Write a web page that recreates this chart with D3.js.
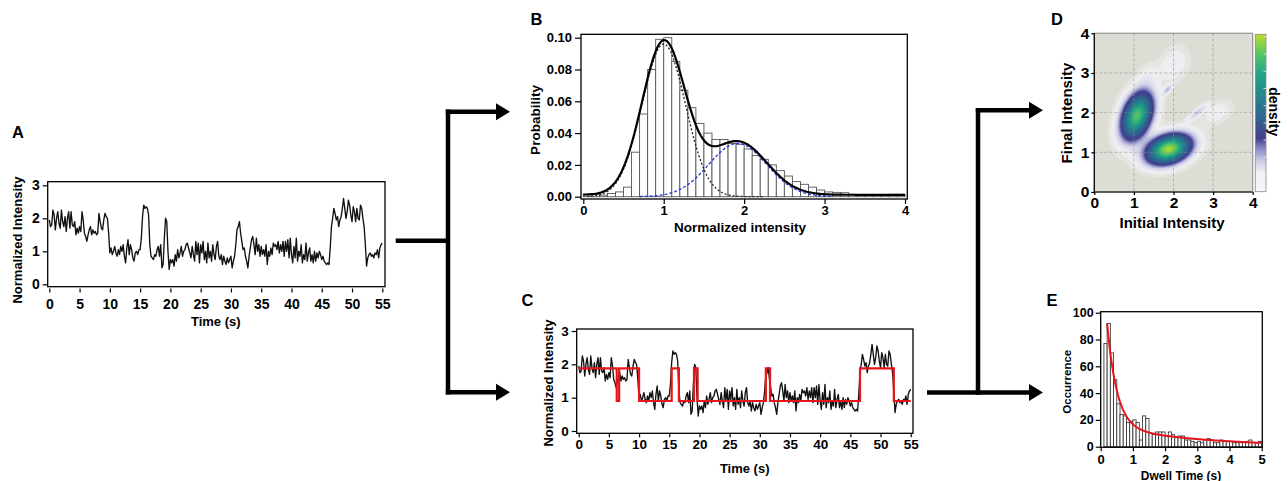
<!DOCTYPE html>
<html>
<head>
<meta charset="utf-8">
<script src="https://cdn.jsdelivr.net/npm/d3@7"></script>
<style>
  body { margin: 0; background: #fff; }
  svg { display: block; }
</style>
</head>
<body>
<svg id="fig" width="1288" height="481"></svg>
<script>
// ---- data ----
// intensity trace, one sample every 0.2 s (panels A and C)
const sampleStep = 0.2;
const intensity = [
  1.95, 1.75, 1.8, 2.25, 2.1,   1.65, 2.0, 2.2, 1.85, 1.7,
  2.25, 1.9, 1.75, 2.05, 1.6,   2.0, 2.2, 1.7, 2.2, 1.8,
  1.75, 1.9, 1.5, 1.7, 1.55,    1.75, 1.6, 2.2, 1.95, 1.55,
  1.45, 1.3, 1.5, 1.65, 1.75,   1.5, 1.65, 1.55, 1.6, 1.5,
  1.55, 2.15, 1.9, 1.7, 1.65,   1.95, 2.15, 2.05, 2.0, 1.55,
  0.95, 1.1, 0.9, 1.0, 1.15,    0.95, 0.85, 1.05, 0.9, 1.15,
  1.0, 1.2, 0.85, 0.65, 1.1,    1.35, 0.9, 1.2, 1.05, 0.8,
  0.7, 0.95, 1.0, 0.9, 1.05,    1.05, 1.4, 2.05, 2.4, 2.3,
  2.35, 2.3, 2.1, 1.2, 0.85,    0.8, 0.75, 0.9, 0.85, 1.05,
  1.15, 0.85, 1.2, 0.5, 0.6,    1.4, 2.0, 1.9, 1.0, 0.45,
  0.75, 0.65, 0.75, 0.55, 0.9,  0.7, 1.05, 0.8, 0.95, 1.15,
  0.85, 1.0, 1.05, 1.2, 1.25,   1.1, 0.95, 0.8, 1.15, 0.9,
  0.7, 1.3, 0.9, 1.25, 0.65,    1.2, 0.95, 1.3, 0.75, 1.0,
  0.65, 1.25, 0.8, 1.0, 0.7,    1.2, 0.9, 0.75, 1.15, 1.3,
  0.85, 0.75, 0.9, 0.6, 0.85,   0.7, 0.6, 0.8, 0.65, 0.75,
  0.85, 0.5, 0.7, 0.85, 1.2,    1.65, 1.75, 1.9, 1.55, 1.3,
  1.05, 1.1, 0.85, 0.7, 0.5,    0.85, 1.1, 1.35, 1.45, 1.2,
  0.9, 1.4, 1.0, 1.2, 0.85,     1.15, 0.9, 1.05, 0.85, 1.2,
  0.6, 1.0, 0.85, 1.1, 0.9,     1.25, 1.15, 1.2, 1.05, 1.3,
  0.95, 1.2, 1.0, 1.3, 0.85,    1.3, 1.0, 1.35, 0.8, 1.4,
  0.9, 0.65, 1.15, 0.8, 1.4,    0.7, 1.0, 0.85, 1.2, 0.65,
  0.9, 0.75, 1.25, 0.7, 0.95,   1.1, 0.7, 0.9, 0.65, 1.0,
  0.7, 0.95, 0.8, 1.0, 0.9,     0.75, 0.85, 0.7, 0.65, 0.6,
  0.65, 0.6, 1.1, 1.75, 2.0,    2.3, 2.15, 1.95, 2.05, 1.75,
  1.95, 2.05, 2.3, 2.6, 2.3,    2.0, 2.2, 2.55, 2.4, 2.1,
  1.9, 2.35, 2.2, 1.9, 2.3,     2.0, 1.95, 2.4, 2.3, 2.0,
  1.75, 1.2, 0.55, 0.8, 0.9,    0.95, 0.85, 0.9, 0.8, 0.95,
  0.9, 1.05, 0.8, 1.1, 1.2,     1.25
];
const timeTicks = [0, 5, 10, 15, 20, 25, 30, 35, 40, 45, 50, 55];
const intensityTicks = [0, 1, 2, 3];

// idealized two-state fit (panel C)
const stepStart = [0, 6.3, 6.7, 10.0, 15.4, 16.6, 19.1, 19.7, 31.0, 31.7, 46.6, 52.2, 55];
const stepLevel = [1.88, 0.9, 1.88, 0.9, 1.88, 0.9, 1.88, 0.9, 1.88, 0.9, 1.88, 0.9, 0.9];

// intensity histogram (panel B), bins of 0.1 from 0 to 4
const histBinWidth = 0.1;
const histProb = [
  0.0015, 0.0015, 0.001, 0.002, 0.003, 0.006, 0.028, 0.052, 0.080, 0.099,
  0.100, 0.085, 0.067, 0.056, 0.046, 0.040, 0.036, 0.036, 0.0335, 0.033,
  0.030, 0.026, 0.0235, 0.020, 0.0164, 0.013, 0.0095, 0.0078, 0.006, 0.0042,
  0.003, 0.0027, 0.0025, 0.0015, 0.001, 0.001, 0.001, 0.001, 0.0015, 0.0015
];
const probTicks = [0, 0.02, 0.04, 0.06, 0.08, 0.10];
const normTicks = [0, 1, 2, 3, 4];
// gaussian fit components
const fitCenter = [1.0, 1.92];
const fitAmp = [0.096, 0.0335];
const fitSigma = [0.27, 0.36];
const fitBase = 0.0012;

// TDP density blobs (panel D)
const blobX = [1.08, 1.88, 1.85, 2.6, 2.0, 1.35, 3.1];
const blobY = [1.92, 1.08, 2.58, 2.0, 3.2, 2.9, 2.0];
const blobMajor = [0.36, 0.33, 0.11, 0.2, 0.28, 0.2, 0.25];
const blobMinor = [0.205, 0.2, 0.045, 0.05, 0.2, 0.15, 0.15];
const blobAngle = [70, 18, 48, 40, 60, 60, 30];
const blobPeak = [0.82, 0.97, 0.09, 0.08, 0.03, 0.025, 0.025];
const densityTicks = [0, 1, 2, 3, 4];
const colorbarTicks = [1, 2, 3, 4, 5, 6, 7, 8, 9];

// dwell time histogram (panel E), bins of 0.1 s from 0.1 s
const dwellStart = 0.1;
const dwellWidth = 0.1;
const dwellCounts = [
  77, 92, 70, 50, 32, 24, 23, 18, 19, 20,
  18, 5, 23, 21, 10, 9, 11, 11, 11, 8,
  11, 9, 7, 8, 8, 5, 5, 4, 3, 4,
  3, 5, 6, 5, 3, 3, 5, 4, 4, 4,
  3, 3, 3, 3, 4, 5, 3, 3, 4
];
const decayAmp = [149.5, 16];
const decayTau = [0.302, 2.9];
const dwellTicks = [0, 1, 2, 3, 4, 5];
const countTicks = [0, 20, 40, 60, 80, 100];

// ---- drawing ----
const FONT = '"Liberation Sans", Arial, Helvetica, sans-serif';
const svg = d3.select('#fig');
const intFmt = d3.format('d');

function axisStyle(g, fs) {
  g.attr('font-family', FONT).attr('font-size', fs).attr('font-weight', 'bold');
  g.select('.domain').remove();
  g.selectAll('.tick line').attr('stroke', '#000').attr('stroke-width', 1.2);
  g.selectAll('.tick text').attr('fill', '#000');
}

function label(txt, x, y, fs, rot) {
  const t = svg.append('text')
    .attr('font-family', FONT).attr('font-weight', 'bold').attr('font-size', fs)
    .attr('text-anchor', 'middle').attr('fill', '#000').text(txt);
  if (rot) t.attr('transform', `translate(${x},${y}) rotate(${rot})`).attr('dy', '0.35em');
  else t.attr('x', x).attr('y', y);
  return t;
}

function frame(g, l, t, r, b, color) {
  g.append('rect').attr('x', l).attr('y', t).attr('width', r - l).attr('height', b - t)
    .attr('fill', 'none').attr('stroke', color || '#000').attr('stroke-width', 1.3);
}

// Panels A and C
function drawTrace(p) {
  const g = svg.append('g');
  const x = d3.scaleLinear().domain([0, 55]).range([p.x0, p.x55]);
  const y = d3.scaleLinear().domain([0, 3]).range([p.y0, p.y3]);

  g.append('path').datum(intensity)
    .attr('d', d3.line().x((d, i) => x(i * sampleStep)).y(d => y(d)))
    .attr('fill', 'none').attr('stroke', '#111').attr('stroke-width', 1.35)
    .attr('stroke-linejoin', 'round');

  if (p.fit) {
    const steps = stepStart.map((t, i) => ({ t, v: stepLevel[i] }));
    g.append('path').datum(steps)
      .attr('d', d3.line().curve(d3.curveStepAfter).x(d => x(d.t)).y(d => y(d.v)))
      .attr('fill', 'none').attr('stroke', '#e8141c').attr('stroke-width', 2.2);
  }

  frame(g, p.fl, p.ft, p.fr, p.fb);

  g.append('g').attr('transform', `translate(0,${p.xAxisY})`)
    .call(d3.axisBottom(x).tickValues(timeTicks).tickFormat(intFmt).tickSize(4).tickPadding(p.xPad).tickSizeOuter(0))
    .call(axisStyle, p.tickFs);
  g.append('g').attr('transform', `translate(${p.fl},0)`)
    .call(d3.axisLeft(y).tickValues(intensityTicks).tickFormat(intFmt).tickSize(5).tickPadding(3).tickSizeOuter(0))
    .call(axisStyle, p.tickFs);

  label('Time (s)', (p.x0 + p.x55) / 2, p.timeY, 13);
  label('Normalized Intensity', p.ylabX, p.ylabY, p.ylabFs, -90);
}

drawTrace({
  x0: 49.3, x55: 382.3, y0: 284.3, y3: 185.3,
  fl: 47.7, fr: 385, ft: 181.7, fb: 286.7,
  xAxisY: 288.5, xPad: 7, tickFs: 14,
  timeY: 326, ylabX: 17.5, ylabY: 240, ylabFs: 13
});
drawTrace({
  x0: 578.7, x55: 910.7, y0: 431, y3: 331,
  fl: 576.7, fr: 913, ft: 329, fb: 433.3,
  xAxisY: 433.3, xPad: 2, tickFs: 13.5, fit: true,
  timeY: 473, ylabX: 548, ylabY: 383, ylabFs: 13
});

// Panel B
(function () {
  const g = svg.append('g');
  const x = d3.scaleLinear().domain([0, 4]).range([583.3, 905]);
  const y = d3.scaleLinear().domain([0, 0.1]).range([196.7, 37.7]);

  g.selectAll('rect.bar').data(histProb).enter().append('rect')
    .attr('class', 'bar')
    .attr('x', (d, i) => x(i * histBinWidth))
    .attr('width', x(histBinWidth) - x(0))
    .attr('y', d => y(d))
    .attr('height', d => y(0) - y(d))
    .attr('fill', '#fff').attr('stroke', '#555').attr('stroke-width', 0.9);

  const gauss = (k, v) => fitAmp[k] * Math.exp(-((v - fitCenter[k]) ** 2) / (2 * fitSigma[k] ** 2));
  const line = d3.line().x(d => x(d[0])).y(d => y(d[1]));

  const xs1 = d3.range(0.05, 2.25, 0.02);
  g.append('path').datum(xs1.map(v => [v, gauss(0, v)]))
    .attr('d', line).attr('fill', 'none').attr('stroke', '#222')
    .attr('stroke-width', 1.3).attr('stroke-dasharray', '2,2');

  const xs2 = d3.range(0.7, 3.12, 0.02);
  g.append('path').datum(xs2.map(v => [v, gauss(1, v)]))
    .attr('d', line).attr('fill', 'none').attr('stroke', '#2233dd')
    .attr('stroke-width', 1.3).attr('stroke-dasharray', '3,2');

  const xs = d3.range(0, 4.001, 0.02);
  g.append('path').datum(xs.map(v => [v, fitBase + gauss(0, v) + gauss(1, v)]))
    .attr('d', line).attr('fill', 'none').attr('stroke', '#000').attr('stroke-width', 2.2);

  frame(g, 581, 34.3, 907.3, 199);

  g.append('g').attr('transform', 'translate(0,199)')
    .call(d3.axisBottom(x).tickValues(normTicks).tickFormat(intFmt).tickSize(5).tickPadding(2).tickSizeOuter(0))
    .call(axisStyle, 13);
  g.append('g').attr('transform', 'translate(581,0)')
    .call(d3.axisLeft(y).tickValues(probTicks).tickFormat(d3.format('.2f')).tickSize(6).tickPadding(3).tickSizeOuter(0))
    .call(axisStyle, 13);

  label('Normalized intensity', 740, 232, 13.5);
  label('Probability', 535, 120, 13.5, -90);
})();

// Panel D
(function () {
  const g = svg.append('g');
  const L = 1094.3, R = 1252.7, T = 33.3, B = 192;
  const x = d3.scaleLinear().domain([0, 4]).range([L, R]);
  const y = d3.scaleLinear().domain([0, 4]).range([B, T]);

  // colour map for the density values
  const stops = [
    [0, '#dddcd5'], [0.02, '#f1f1f4'], [0.07, '#d3d2e9'], [0.12, '#8e8fc7'],
    [0.17, '#433f8d'], [0.32, '#33618f'], [0.5, '#27838e'], [0.66, '#20a386'],
    [0.82, '#52c569'], [1, '#b8de29']
  ];
  const color = d3.scaleLinear().domain(stops.map(s => s[0])).range(stops.map(s => s[1]))
    .interpolate(d3.interpolateRgb).clamp(true);

  const n = 160;
  const values = new Float64Array(n * n);
  for (let j = 0; j < n; j++) {
    for (let i = 0; i < n; i++) {
      const xv = (i + 0.5) * 4 / n, yv = (j + 0.5) * 4 / n;
      let s = 0;
      for (let k = 0; k < blobX.length; k++) {
        const a = blobAngle[k] * Math.PI / 180;
        const dx = xv - blobX[k], dy = yv - blobY[k];
        const u = dx * Math.cos(a) + dy * Math.sin(a);
        const v = -dx * Math.sin(a) + dy * Math.cos(a);
        s += blobPeak[k] * Math.exp(-0.5 * (u * u / blobMajor[k] ** 2 + v * v / blobMinor[k] ** 2));
      }
      values[j * n + i] = s;
    }
  }

  svg.append('clipPath').attr('id', 'clipD')
    .append('rect').attr('x', L).attr('y', T).attr('width', R - L).attr('height', B - T);

  const plot = g.append('g').attr('clip-path', 'url(#clipD)');
  plot.append('rect').attr('x', L).attr('y', T).attr('width', R - L).attr('height', B - T)
    .attr('fill', '#dddcd5');

  const contours = d3.contours().size([n, n]).thresholds(d3.range(0.004, 1.0, 0.008))(values);
  const proj = d3.geoTransform({
    point(px, py) { this.stream.point(x(px * 4 / n), y(py * 4 / n)); }
  });
  plot.selectAll('path.c').data(contours).enter().append('path')
    .attr('class', 'c')
    .attr('d', d3.geoPath(proj))
    .attr('fill', d => color(d.value + 0.004));

  // grid
  [1, 2, 3].forEach(v => {
    plot.append('line').attr('x1', x(v)).attr('x2', x(v)).attr('y1', T).attr('y2', B)
      .attr('stroke', '#8f8f8f').attr('stroke-width', 0.7).attr('stroke-dasharray', '3,2').attr('opacity', 0.8);
    plot.append('line').attr('y1', y(v)).attr('y2', y(v)).attr('x1', L).attr('x2', R)
      .attr('stroke', '#8f8f8f').attr('stroke-width', 0.7).attr('stroke-dasharray', '3,2').attr('opacity', 0.8);
  });

  frame(g, L, T, R, B, '#9a9a9a');
  g.append('line').attr('x1', L).attr('x2', R).attr('y1', B).attr('y2', B).attr('stroke', '#000').attr('stroke-width', 1.2);
  g.append('line').attr('x1', L).attr('x2', L).attr('y1', T).attr('y2', B).attr('stroke', '#000').attr('stroke-width', 1.2);

  g.append('g').attr('transform', `translate(0,${B})`)
    .call(d3.axisBottom(x).tickValues(densityTicks).tickFormat(intFmt).tickSize(3).tickPadding(2).tickSizeOuter(0))
    .call(axisStyle, 15.5);
  g.append('g').attr('transform', `translate(${L},0)`)
    .call(d3.axisLeft(y).tickValues(densityTicks).tickFormat(intFmt).tickSize(3).tickPadding(2).tickSizeOuter(0))
    .call(axisStyle, 15.5);

  // colour bar (legend positions as in the original bar)
  const barStops = [
    [0, '#f7f7f7'], [0.12, '#f1f1f4'], [0.2, '#c9c8e4'], [0.27, '#8e8fc7'],
    [0.34, '#433f8d'], [0.46, '#33618f'], [0.6, '#27838e'], [0.74, '#20a386'],
    [0.87, '#52c569'], [1, '#b8de29']
  ];
  const cbL = 1255.3, cbW = 10.7;
  const grad = svg.append('defs').append('linearGradient').attr('id', 'cbGrad')
    .attr('x1', 0).attr('x2', 0).attr('y1', 1).attr('y2', 0);
  barStops.forEach(s => grad.append('stop').attr('offset', s[0]).attr('stop-color', s[1]));
  g.append('rect').attr('x', cbL).attr('y', 34.3).attr('width', cbW).attr('height', 157.4)
    .attr('fill', 'url(#cbGrad)').attr('stroke', '#8a8a8a').attr('stroke-width', 0.8);
  const cy = d3.scaleLinear().domain([0, 9.15]).range([191.7, 34.3]);
  g.selectAll('line.cbt').data(colorbarTicks).enter().append('line')
    .attr('class', 'cbt')
    .attr('x1', cbL + cbW - 2.5).attr('x2', cbL + cbW)
    .attr('y1', d => cy(d)).attr('y2', d => cy(d))
    .attr('stroke', '#eee').attr('stroke-width', 0.8);

  label('density', 1274, 111.7, 14, 90);
  label('Initial Intensity', 1172, 228, 15);
  label('Final Intensity', 1066.5, 113, 15, -90);
})();

// Panel E
(function () {
  const g = svg.append('g');
  const x = d3.scaleLinear().domain([0, 5]).range([1100.7, 1261.7]);
  const y = d3.scaleLinear().domain([0, 100]).range([446.7, 312.7]);

  g.selectAll('rect.bar').data(dwellCounts).enter().append('rect')
    .attr('class', 'bar')
    .attr('x', (d, i) => x(dwellStart + i * dwellWidth))
    .attr('width', x(dwellWidth) - x(0))
    .attr('y', d => y(d))
    .attr('height', d => y(0) - y(d))
    .attr('fill', '#fff').attr('stroke', '#333').attr('stroke-width', 0.85);

  const ts = d3.range(0.2, 5.001, 0.02);
  const decay = t => decayAmp[0] * Math.exp(-t / decayTau[0]) + decayAmp[1] * Math.exp(-t / decayTau[1]);
  g.append('path').datum(ts.map(t => [t, decay(t)]))
    .attr('d', d3.line().x(d => x(d[0])).y(d => y(d[1])))
    .attr('fill', 'none').attr('stroke', '#e8141c').attr('stroke-width', 2);

  frame(g, 1100.7, 311.7, 1262.3, 447.3);

  g.append('g').attr('transform', 'translate(0,447.3)')
    .call(d3.axisBottom(x).tickValues(dwellTicks).tickFormat(intFmt).tickSize(4).tickPadding(3).tickSizeOuter(0))
    .call(axisStyle, 13);
  g.append('g').attr('transform', 'translate(1100.7,0)')
    .call(d3.axisLeft(y).tickValues(countTicks).tickFormat(intFmt).tickSize(5).tickPadding(2).tickSizeOuter(0))
    .call(axisStyle, 12.5);

  label('Dwell Time (s)', 1181, 479.5, 12);
  label('Occurrence', 1066.7, 381.7, 11.5, -90);
})();

// panel letters
[['A', 18, 137.5], ['B', 536.5, 25], ['C', 527.5, 306], ['D', 1057, 25], ['E', 1052, 306]]
  .forEach(d => label(d[0], d[1], d[2], 16.5));

// connecting arrows
function arrowHead(tipX, y) {
  svg.append('path')
    .attr('d', `M${tipX},${y} L${tipX - 14},${y - 8.5} L${tipX - 14},${y + 8.5} Z`)
    .attr('fill', '#000');
}
function bar(x1, y1, x2, y2) {
  svg.append('line').attr('x1', x1).attr('y1', y1).attr('x2', x2).attr('y2', y2)
    .attr('stroke', '#000').attr('stroke-width', 4.5);
}
bar(395.7, 240.7, 448, 240.7);
bar(448, 109.5, 448, 394.5);
bar(445.8, 111.7, 498, 111.7);
bar(445.8, 392.3, 498, 392.3);
arrowHead(510, 111.7);
arrowHead(510, 392.3);

bar(927, 392.5, 1031, 392.5);
bar(978, 108, 978, 394.7);
bar(975.8, 110.3, 1031, 110.3);
arrowHead(1043, 110.3);
arrowHead(1043, 392.5);
</script>
</body>
</html>
